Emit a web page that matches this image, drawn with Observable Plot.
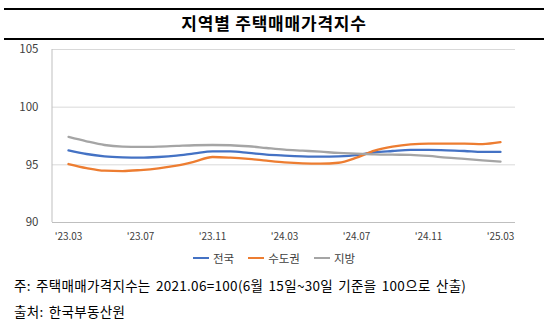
<!DOCTYPE html>
<html><head><meta charset="utf-8">
<script src="https://cdn.jsdelivr.net/npm/d3@7"></script>
<script src="https://cdn.jsdelivr.net/npm/@observablehq/plot@0.6"></script>
<style>
body{margin:0;background:#fff;font-family:"Noto Sans CJK KR","Noto Sans",sans-serif;}
#wrap{position:relative;width:548px;height:331px;overflow:hidden;}
.hr{position:absolute;left:4px;width:540px;height:2px;background:#000;}
#title{position:absolute;left:0;width:548px;top:10px;text-align:center;font-size:17px;letter-spacing:0.8px;font-weight:bold;color:#000;line-height:26px;}
#chart{position:absolute;left:0;top:40px;}
#legend{position:absolute;left:0;width:548px;top:250px;display:flex;justify-content:center;gap:14px;font-size:11.5px;color:#404040;}
#legend span.item{display:flex;align-items:center;gap:4px;}
#legend span.sw{display:inline-block;width:16px;height:2.5px;}
.note{position:absolute;left:14px;font-size:13.5px;word-spacing:2px;letter-spacing:0.3px;color:#000;white-space:nowrap;}
</style></head>
<body><div id="wrap">
<div class="hr" style="top:8px"></div>
<div id="title">지역별 주택매매가격지수</div>
<div class="hr" style="top:38px"></div>
<div id="chart"></div>
<div id="legend"></div>
<div class="note" style="top:275px">주: 주택매매가격지수는 2021.06=100(6월 15일~30일 기준을 100으로 산출)</div>
<div class="note" style="top:301px">출처: 한국부동산원</div>
</div>
<script>
const months = ["'23.03","'23.04","'23.05","'23.06","'23.07","'23.08","'23.09","'23.10","'23.11","'23.12",
"'24.01","'24.02","'24.03","'24.04","'24.05","'24.06","'24.07","'24.08","'24.09","'24.10","'24.11","'24.12",
"'25.01","'25.02","'25.03"];
const nation = [96.26,95.94,95.74,95.65,95.62,95.68,95.80,96.00,96.17,96.16,96.03,95.88,95.80,95.74,95.71,95.74,95.84,96.09,96.20,96.29,96.29,96.26,96.20,96.12,96.12];
const capital = [95.07,94.72,94.49,94.46,94.55,94.70,94.93,95.28,95.68,95.62,95.51,95.36,95.22,95.13,95.10,95.18,95.62,96.23,96.58,96.78,96.84,96.84,96.84,96.80,96.96];
const regional = [97.42,97.04,96.72,96.58,96.55,96.58,96.64,96.70,96.72,96.70,96.61,96.46,96.32,96.23,96.14,96.03,95.97,95.91,95.88,95.86,95.77,95.62,95.51,95.39,95.28];
const seriesNames = ["전국","수도권","지방"];
const seriesColors = ["#4472C4","#ED7D31","#A5A5A5"];
const yTicks = [90,95,100,105];
const xTickLabels = ["'23.03","'23.07","'23.11","'24.03","'24.07","'24.11","'25.03"];

const seriesValues = [nation, capital, regional];
const rows = [];
seriesNames.forEach((s,k)=>months.forEach((m,i)=>rows.push({month:m, series:s, value:seriesValues[k][i]})));

const chart = Plot.plot({
  width:548, height:210,
  marginLeft:52, marginRight:33, marginTop:9, marginBottom:28,
  style:{fontFamily:'"Noto Sans CJK KR","Noto Sans",sans-serif', fontSize:"11px", color:"#404040", background:"transparent"},
  x:{type:"point", domain:months, padding:0.5},
  y:{domain:[90,105]},
  color:{domain:seriesNames, range:seriesColors},
  marks:[
    Plot.gridY(yTicks.filter(d=>d>90), {stroke:"#d9d9d9", strokeOpacity:1, strokeWidth:1}),
    Plot.ruleY([90], {stroke:"#bfbfbf", strokeWidth:1}),
    Plot.axisY({ticks:yTicks, tickSize:0, tickPadding:14, fontSize:11.5, label:null}),
    Plot.axisX({ticks:xTickLabels, tickSize:0, tickPadding:10, fontSize:10, label:null}),
    Plot.line(rows, {x:"month", y:"value", z:"series", stroke:"series", strokeWidth:2.3, curve:"monotone-x"})
  ]
});
const svg = d3.select(chart);
svg.append("line").attr("x1",52).attr("x2",52).attr("y1",9).attr("y2",182).attr("stroke","#bfbfbf");
document.getElementById("chart").appendChild(chart);

const lg = document.getElementById("legend");
seriesNames.forEach((s,i)=>{
  const it = document.createElement("span"); it.className="item";
  it.innerHTML = `<span class="sw" style="background:${seriesColors[i]}"></span><span>${s}</span>`;
  lg.appendChild(it);
});
</script>
</body></html>
